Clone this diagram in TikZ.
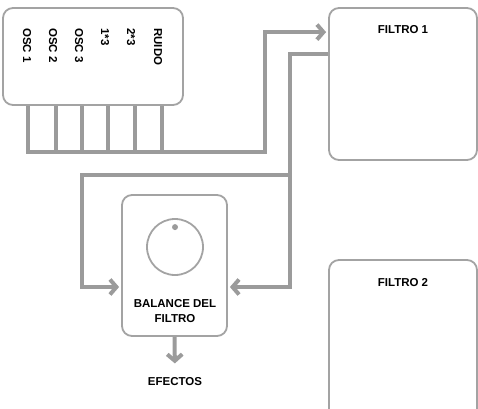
\documentclass[tikz,border=0pt]{standalone}
\usepackage{fontspec}
\setmainfont{Liberation Sans}
\usetikzlibrary{arrows.meta}
\definecolor{wiregray}{HTML}{9B9B9B}
\definecolor{boxgray}{HTML}{A3A3A3}

\begin{document}
\begin{tikzpicture}[x=1pt, y=-1pt,
    every node/.style={font=\bfseries\fontsize{11.5}{15}\selectfont},
    panel/.style={draw=boxgray, line width=1.8pt, rounded corners=10pt, inner sep=0pt},
    wire/.style={draw=wiregray, line width=4pt},
    feed/.style={wire, -{Straight Barb[length=6.5pt,width=15pt]}}]
  % Canvas in pixels of the reference, origin top left
  \useasboundingbox (0,0) rectangle (478,408);
  \clip (0,0) rectangle (478,408);

  % Oscillator panel with its six sources
  \node[panel, minimum width=180pt, minimum height=97pt] (osc) at (93,56.5) {};
  \foreach \name/\xpos in {OSC 1/27, OSC 2/53, OSC 3/79, 1*3/105, 2*3/131, RUIDO/158} {
    \node[rotate=-90, anchor=west, inner sep=0pt] (src-\xpos) at (\xpos,28) {\name};
  }

  % Filters
  \node[panel, minimum width=148pt, minimum height=152pt] (filt1) at (403,84) {};
  \node (filt1-title) at ([yshift=-22pt]filt1.north) {FILTRO 1};
  \node[panel, minimum width=148pt, minimum height=160pt] (filt2) at (403,340) {};
  \node (filt2-title) at ([yshift=-23pt]filt2.north) {FILTRO 2};

  % Filter balance with its knob
  \node[panel, minimum width=105pt, minimum height=141pt] (bal) at (174.5,265.5) {};
  \node[circle, draw=boxgray, line width=1.8pt, minimum size=56pt, inner sep=0pt] (knob) at (175,247) {};
  \node[circle, fill=wiregray, minimum size=6pt, inner sep=0pt] (knob-dot) at ([yshift=-9pt]knob.north) {};
  \node[align=center] (bal-title) at (175,311) {BALANCE DEL\\FILTRO};
  \node (efectos) at (175,382) {EFECTOS};

  % Mixing bus into filter 1
  \coordinate (busL) at (28,152);
  \coordinate (busR) at (265,152);
  \draw[feed, shorten >=2pt] (osc.south -| busL) -- (busL) -- (busR) |- ([yshift=-25pt]filt1.north west);
  \foreach \xpos in {56, 82, 108, 135, 162} {
    \draw[wire] (\xpos,0 |- osc.south) -- (\xpos,0 |- busL);
  }

  % Filter 1 back to both sides of the balance
  \coordinate (split) at (290,175);
  \coordinate (bend) at (82,175);
  \draw[feed, shorten >=2pt] ([yshift=-47pt]filt1.north west) -| (split) |- ([yshift=-21.5pt]bal.east);
  \draw[feed, shorten >=2pt] (split) -- (bend) |- ([yshift=-21.5pt]bal.west);

  % Out to the effects
  \draw[feed, shorten >=11pt] (bal.south) -- (efectos.north);
\end{tikzpicture}
\end{document}
